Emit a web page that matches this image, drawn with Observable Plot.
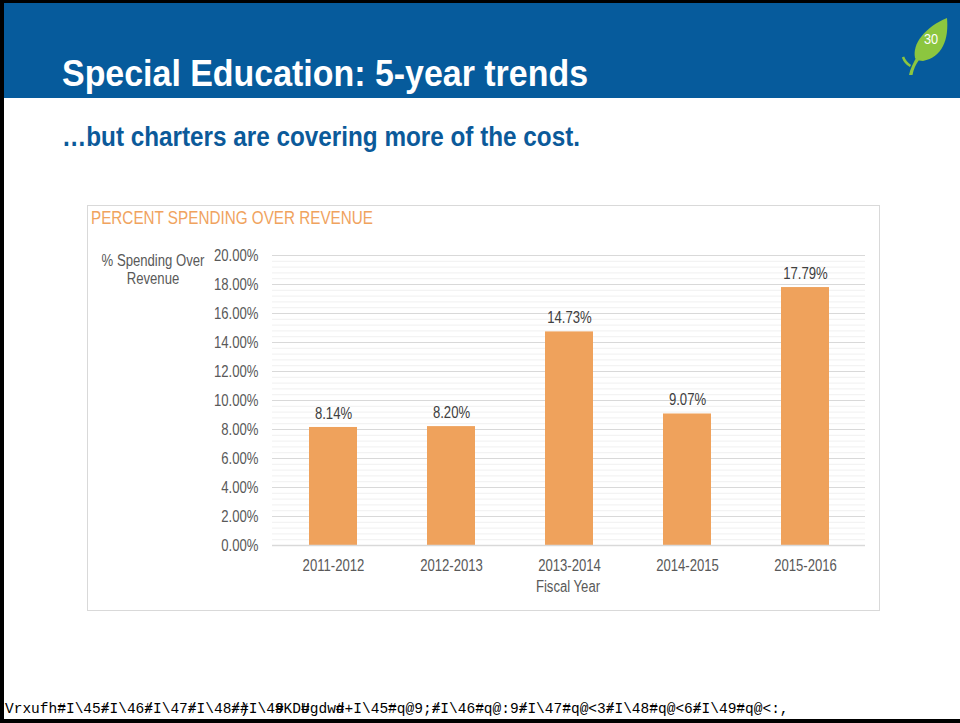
<!DOCTYPE html>
<html>
<head>
<meta charset="utf-8">
<script src="https://cdn.jsdelivr.net/npm/d3@7"></script>
<script src="https://cdn.jsdelivr.net/npm/@observablehq/plot@0.6"></script>
<style>
  html, body { margin: 0; padding: 0; background: #fff; }
  #page { position: relative; width: 960px; height: 723px; overflow: hidden; background: #fff;
          font-family: "Liberation Sans", Arial, sans-serif; }
  #frame { position: absolute; left: 0; top: 0; width: 960px; height: 723px; box-sizing: border-box;
           border-left: 4px solid #000; border-top: 3px solid #000; border-bottom: 4px solid #000; }
  #header { position: absolute; left: 4px; top: 3px; width: 956px; height: 95px; background: #065B9C; }
  .fit { position: absolute; white-space: nowrap; line-height: 1; transform-origin: 0 0; }
  #title { left: 62px; top: 55px; color: #fff; font-weight: bold; font-size: 37px; }
  #subtitle { left: 62px; top: 124px; color: #0B5A9A; font-weight: bold; font-size: 27px; }
  #box { position: absolute; left: 87px; top: 205px; width: 793px; height: 406px; box-sizing: border-box; border: 1px solid #d9d9d9; }
  #ctitle { left: 91px; top: 208.5px; color: #F0A35E; font-size: 18.6px; }
  #ylab { position: absolute; left: 73px; top: 252px; width: 160px; text-align: center; color: #595959; font-size: 16px; line-height: 18px;
          transform: scaleX(0.82); transform-origin: 80px 0; }
  #chart { position: absolute; left: 87px; top: 240px; }
  #xlab { position: absolute; left: 468px; top: 579px; width: 200px; text-align: center; color: #595959; font-size: 16px; line-height: 16px;
          transform: scaleX(0.82); transform-origin: 100px 0; }
  #footer { position: absolute; left: 5px; top: 702px; font-family: "Liberation Mono", "Courier New", monospace; font-size: 14.5px; line-height: 1; color: #000; white-space: pre; }
  #footer .ov { margin-left: -0.6em; }
  #leaf { position: absolute; left: 895px; top: 12px; }
</style>
</head>
<body>
<div id="page">
  <div id="header"></div>
  <div id="title" class="fit" data-w="526">Special Education: 5-year trends</div>
  <svg id="leaf" width="60" height="68" viewBox="0 0 60 68">
    <path d="M20 46 C 17 32, 30 15, 52 6 C 54 28, 47 45, 28 49 C 25 49, 23 48, 21 47 Z" fill="#8CC63F"/>
    <path d="M21 46 C 18 52, 15 57, 14 63 L 17.5 63 C 18.5 57, 21 52, 24 48 Z" fill="#8CC63F"/>
    <path d="M15.5 54 C 12 52, 9.5 49, 8 45" stroke="#8CC63F" stroke-width="2.5" fill="none"/>
    <text x="36" y="32" fill="#fff" font-family="Liberation Sans, Arial, sans-serif" font-size="15" text-anchor="middle" transform="translate(36 0) scale(0.85 1) translate(-36 0)">30</text>
  </svg>
  <div id="subtitle" class="fit" data-w="518">…but charters are covering more of the cost.</div>
  <div id="box"></div>
  <div id="ctitle" class="fit" data-w="282">PERCENT SPENDING OVER REVENUE</div>
  <div id="ylab">% Spending Over<br>Revenue</div>
  <div id="chart"></div>
  <div id="xlab">Fiscal Year</div>
  <div id="footer"></div>
  <div id="frame"></div>
</div>
<script>
const years = ["2011-2012", "2012-2013", "2013-2014", "2014-2015", "2015-2016"];
const pctSpendingOverRevenue = [8.14, 8.20, 14.73, 9.07, 17.79];
const majorTicks = [0, 2, 4, 6, 8, 10, 12, 14, 16, 18, 20];
const minorTicks = d3.range(0, 51).map(i => +(i * 0.4).toFixed(1)).filter(v => Math.abs(v / 2 - Math.round(v / 2)) > 1e-6);
const footerText = "Vrxufh=#I\\45/#I\\46/#I\\47/#I\\48/#)#I\\49#KDU#gdwd#+I\\45=#q@9;/#I\\46=#q@:9/#I\\47=#q@<3/#I\\48=#q@<6/#I\\49=#q@<:,";

// footer: the "#" glyphs overprint the preceding character, as in the source slide
const footer = document.getElementById("footer");
for (const ch of footerText) {
  if (ch === "#") {
    const s = document.createElement("span");
    s.className = "ov";
    s.textContent = ch;
    footer.appendChild(s);
  } else {
    footer.appendChild(document.createTextNode(ch));
  }
}

// narrow the HTML headings to the slide's condensed face
document.querySelectorAll(".fit").forEach(el => {
  const w = el.getBoundingClientRect().width;
  el.style.transform = `scaleX(${(+el.dataset.w) / w})`;
});

const data = years.map((y, i) => ({year: y, value: pctSpendingOverRevenue[i]}));

const chart = Plot.plot({
  width: 793,
  height: 360,
  marginLeft: 185,
  marginRight: 15,
  marginTop: 15,
  marginBottom: 55,
  style: {fontFamily: '"Liberation Sans", Arial, sans-serif', fontSize: "16px", color: "#595959", background: "transparent"},
  x: {domain: years, paddingInner: 0.595, paddingOuter: 0.2975, label: null, tickSize: 0, tickPadding: 14},
  y: {domain: [0, 20], ticks: majorTicks, tickFormat: d => d.toFixed(2) + "%", label: null, tickSize: 0, tickPadding: 14},
  marks: [
    Plot.ruleY(minorTicks, {stroke: "#f0f0f0", strokeWidth: 1}),
    Plot.ruleY(majorTicks, {stroke: "#d9d9d9", strokeWidth: 1}),
    Plot.barY(data, {x: "year", y: "value", fill: "#EFA25C"}),
    Plot.ruleY([0], {stroke: "#d9d9d9", strokeWidth: 1.5}),
    Plot.text(data, {x: "year", y: "value", text: d => d.value.toFixed(2) + "%", dy: -14, fill: "#404040", fontSize: 16})
  ]
});
document.getElementById("chart").appendChild(chart);

// condensed look for the chart's text (Arial Narrow proportions)
chart.querySelectorAll("text").forEach(t => {
  const len = t.getComputedTextLength();
  if (len > 0) {
    t.setAttribute("textLength", (len * 0.82).toFixed(2));
    t.setAttribute("lengthAdjust", "spacingAndGlyphs");
  }
});
</script>
</body>
</html>
